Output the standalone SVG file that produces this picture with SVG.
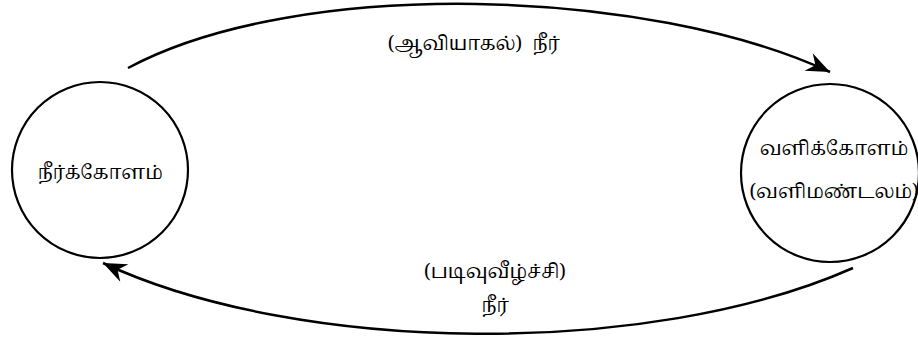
<svg xmlns="http://www.w3.org/2000/svg" width="918" height="343" viewBox="0 0 918 343">
<style>
.node circle{fill:#fff;stroke:#000;stroke-width:2.2}
text{font-family:"Noto Serif Tamil","Noto Sans Tamil","Lohit Tamil","Noto Sans",sans-serif;font-size:19px;fill:#000;text-anchor:middle;white-space:pre}
.conn path{fill:none;stroke:#000;stroke-width:2.5}
</style>
<defs>
<marker id="ah" markerUnits="userSpaceOnUse" markerWidth="30" markerHeight="30" viewBox="-24 -12 28 24" refX="0" refY="0" orient="auto">
<path d="M0,0 L-22,-9 L-15,0 L-22,9 Z" fill="#000"/>
</marker>
</defs>
<rect width="918" height="343" fill="#fff"/>
<g id="n1" class="node">
<circle cx="100" cy="170" r="88"/>
<text x="100" y="179">நீர்க்கோளம்</text>
</g>
<g id="n2" class="node">
<circle cx="830" cy="173" r="89"/>
<text x="834" y="155">வளிக்கோளம்</text>
<text x="834" y="198">(வளிமண்டலம்)</text>
</g>
<g id="connectors" class="conn">
<path d="M128,68 C300,-24 650,-12 830,72" marker-end="url(#ah)"/>
<path d="M853,268 C650,358 300,355 103,263" marker-end="url(#ah)"/>
</g>
<g id="labels">
<text x="474" y="50">(ஆவியாகல்)  நீர்</text>
<text x="495" y="278">(படிவுவீழ்ச்சி)</text>
<text x="495" y="312">நீர்</text>
</g>
</svg>
